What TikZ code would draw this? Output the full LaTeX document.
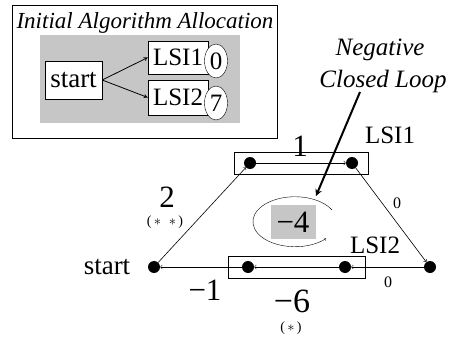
\documentclass[tikz,border=0pt]{standalone}
\usepackage{fontspec}
\setmainfont{Liberation Serif}
\usepackage{tikz}
\usetikzlibrary{arrows,shapes,positioning,fit}

\newcommand{\fhuge}{\fontsize{34}{36}\selectfont}
\newcommand{\fbig}{\fontsize{31}{33}\selectfont}
\newcommand{\fmid}{\fontsize{25}{28}\selectfont}
\newcommand{\ftitle}{\fontsize{23}{26}\selectfont}
\newcommand{\fsmall}{\fontsize{16}{18}\selectfont}
\newcommand{\ftiny}{\fontsize{14}{16}\selectfont}

\begin{document}
\begin{tikzpicture}[x=1pt,y=-1pt,
  dot/.style={circle,fill=black,inner sep=0pt,minimum size=12pt},
  bx/.style={draw,fill=white,inner sep=0pt,font=\fmid},
  val/.style={draw,fill=white,ellipse,inner sep=0pt,minimum width=23pt,minimum height=34pt,font=\fmid},
  lbl/.style={inner sep=0pt},
  shadebox/.style={fill=gray!45},
  edge/.style={->,>=to,semithick}]

  \useasboundingbox (0,0) rectangle (458,337);

  % initial allocation
  \draw[semithick] (12,5) rectangle (277,138);
  \fill[shadebox] (40,35) rectangle (240,123);
  \node[lbl,font=\ftitle\itshape] (title) at (145,23) {Initial Algorithm Allocation};
  \node[bx,minimum width=57pt,minimum height=38pt,font=\fontsize{27}{30}\selectfont] (st) at (73.5,80) {start};
  \node[bx,minimum width=60pt,minimum height=33pt] (l1) at (178,57.5) {LSI1\hspace{6pt}};
  \node[bx,minimum width=60pt,minimum height=35pt] (l2) at (178,97.5) {LSI2\hspace{6pt}};
  \node[val] (v1) at (216,61) {0};
  \node[val] (v2) at (216,103) {7};
  \draw[thick,-stealth] (st.east) -- (l1.west);
  \draw[thick,-stealth] (st.east) -- (l2.west);

  % graph
  \node[dot] (s) at (154,267) {};
  \node[dot] (tl) at (250,163) {};
  \node[dot] (tr) at (352,163) {};
  \node[dot] (r) at (430,267) {};
  \node[dot] (br) at (345,267) {};
  \node[dot] (bl) at (248,267) {};
  \node[draw,fit=(tl)(tr),inner xsep=10pt,inner ysep=5pt] (top) {};
  \node[draw,fit=(bl)(br),inner xsep=14pt,inner ysep=5pt] (bot) {};

  \draw[edge] (s) -- (tl);
  \draw[edge] (tl) -- (tr);
  \draw[edge] (tr) -- (r);
  \draw[edge] (r) -- (br);
  \draw[edge] (br) -- (bl);
  \draw[edge] (bl) -- (s);

  \node[lbl,font=\fontsize{27}{30}\selectfont] (sname) at (107,267) {start};
  \node[lbl,font=\fbig] (n1) at (300,146) {1};
  \node[lbl,font=\fmid] (lsi1) at (390,135) {LSI1};
  \node[lbl,font=\fbig] (n2) at (167,197) {2};
  \node[lbl,font=\ftiny] (ss) at (165,222) {(\,$\ast$\;\;$\ast$\,)};
  \node[lbl,font=\fsmall] (z1) at (397,203) {0};
  \node[lbl,font=\fmid] (lsi2) at (375,245) {LSI2};
  \node[lbl,font=\fsmall] (z2) at (388,282) {0};
  \node[lbl,font=\fbig] (m1) at (205,290) {−1};
  \node[lbl,font=\fhuge] (m6) at (292,301) {−6};
  \node[lbl,font=\ftiny] (s1) at (291,328) {(\,$\ast$\,)};

  % negative loop
  \node[lbl,font=\fmid\itshape] (neg) at (380,50) {Negative};
  \node[lbl,font=\fmid\itshape] (cl) at (383,81) {Closed Loop};
  \coordinate (tail) at (360,92);
  \coordinate (tip) at (316,196);
  \draw[line width=2pt,-stealth] (tail) -- (tip);
  \node[shadebox,minimum width=45pt,minimum height=34pt,inner sep=0pt,font=\fbig] (m4) at (293,222) {−4};
  \draw[->,>=to] (332,210) arc[start angle=-28,end angle=-318,x radius=42,y radius=25];

\end{tikzpicture}
\end{document}
